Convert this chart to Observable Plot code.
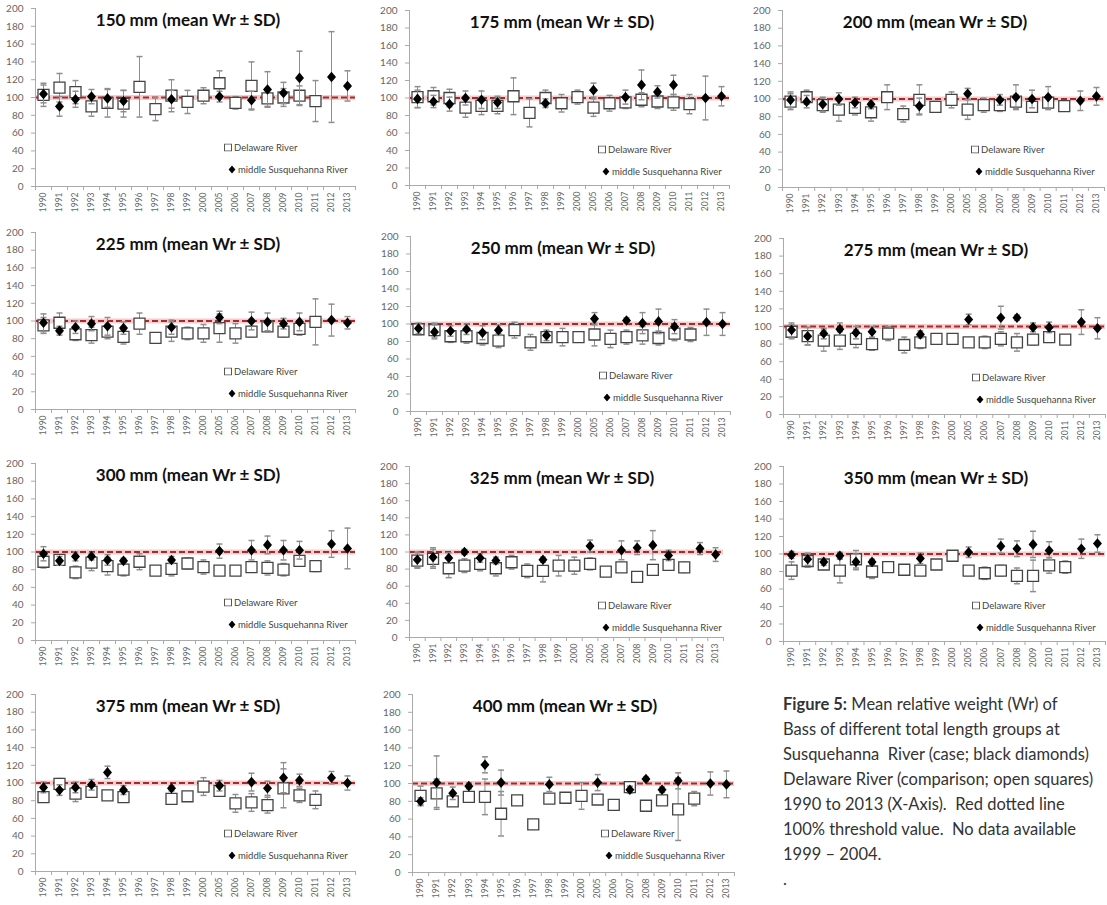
<!DOCTYPE html>
<html><head><meta charset="utf-8">
<script src="https://cdn.jsdelivr.net/npm/d3@7"></script>
<script src="https://cdn.jsdelivr.net/npm/@observablehq/plot@0.6"></script>
<style>
html,body{margin:0;padding:0;background:#fff;}
body{width:1107px;height:905px;overflow:hidden;position:relative;font-family:Lato,"Open Sans",sans-serif;}
.plot{position:absolute;}
.ptitle{position:absolute;font-weight:bold;font-size:17px;color:#111;transform:translate(-50%,-50%);white-space:nowrap;}
.leg{position:absolute;font-size:9.5px;color:#444;white-space:nowrap;display:flex;align-items:center;transform:translateY(-50%);}
.leg svg{margin-right:2px;}
#caption{position:absolute;left:783px;top:692px;font-size:16.5px;line-height:25px;color:#333;white-space:nowrap;}
</style></head><body>
<script>
const years = ["1990","1991","1992","1993","1994","1995","1996","1997","1998","1999","2000","2005","2006","2007","2008","2009","2010","2011","2012","2013"];
const sizes = ["150 mm","175 mm","200 mm","225 mm","250 mm","275 mm","300 mm","325 mm","350 mm","375 mm","400 mm"];
const seriesNames = ["Delaware River","middle Susquehanna River"];

// Delaware River (open squares): mean Wr and SD
const del150 = [103,111,106,90,94,93,112,87,102,95,102,116,94,113,99,100,102,96,null,null];
const del150sd = [13,16,13,11,16,15,34,13,18,13,9,14,7,27,9,10,11,23,null,null];
const del175 = [101,102,100,89,91,91,102,83,100,94,101,89,94,95,98,96,95,93,null,null];
const del175sd = [12,10,10,11,10,9,21,16,9,10,8,10,9,7,8,8,9,11,null,null];
const del200 = [97,102,93,88,90,85,102,83,99,91,99,88,93,93,97,91,96,92,null,null];
const del200sd = [9,8,8,13,8,10,14,9,17,6,9,11,8,7,8,5,8,4,null,null];
const del225 = [95,98,85,84,88,82,97,81,88,86,86,92,86,88,94,88,91,99,null,null];
const del225sd = [9,11,7,9,8,8,12,5,11,7,10,16,11,6,6,6,7,26,null,null];
const del250 = [94,93,86,86,84,81,93,79,85,85,85,88,83,85,87,84,89,88,null,null];
const del250sd = [6,8,7,8,8,8,9,9,6,10,5,13,10,8,10,8,8,8,null,null];
const del275 = [94,89,84,84,86,80,92,79,82,86,86,82,82,86,82,85,88,85,null,null];
const del275sd = [8,10,12,10,10,7,8,9,7,4,4,3,7,8,10,6,6,5,null,null];
const del300 = [89,91,77,88,84,80,89,79,81,87,83,79,79,83,82,80,90,84,null,null];
const del300sd = [7,5,7,9,10,7,9,4,8,6,8,4,5,5,8,7,5,6,null,null];
const del325 = [90,92,81,84,86,81,88,78,78,84,84,86,77,82,71,79,85,82,null,null];
const del325sd = [9,11,11,8,8,9,8,8,13,12,10,7,3,4,4,6,6,6,null,null];
const del350 = [81,92,88,81,94,80,85,82,81,88,98,81,78,81,75,75,87,85,null,null];
const del350sd = [10,7,4,14,10,8,4,0,4,5,3,2,7,6,9,18,9,7,null,null];
const del375 = [84,99,88,90,86,84,null,null,82,85,96,91,77,78,75,94,86,81,null,null];
const del375sd = [3,6,9,6,5,5,null,null,3,3,10,6,10,10,9,22,8,10,null,null];
const del400 = [86,89,80,85,85,66,81,54,83,84,86,82,76,96,75,81,71,83,null,null];
const del400sd = [11,16,5,3,20,25,0,0,5,3,15,4,0,4,2,3,35,8,null,null];

// middle Susquehanna River (black diamonds): mean Wr and SD
const sus150 = [104,90,98,101,99,96,null,null,98,null,null,101,null,97,109,105,122,null,123,113];
const sus150sd = [10,11,9,8,10,12,null,null,10,null,null,6,null,10,20,12,30,null,51,17];
const sus175 = [99,96,93,100,98,95,null,null,94,null,null,109,null,101,115,107,115,null,100,102];
const sus175sd = [10,7,8,8,10,7,null,null,5,null,null,8,null,8,17,7,11,null,25,11];
const sus200 = [99,97,94,100,96,94,null,null,92,null,null,106,null,99,102,100,102,null,98,103];
const sus200sd = [9,7,8,7,6,5,null,null,9,null,null,6,null,6,14,10,12,null,11,10];
const sus225 = [98,89,93,97,94,92,null,null,93,null,null,104,null,100,99,97,99,null,101,98];
const sus225sd = [10,5,7,8,10,7,null,null,8,null,null,7,null,10,10,6,10,null,18,7];
const sus250 = [95,91,92,94,90,93,null,null,87,null,null,106,null,104,101,103,97,null,102,100];
const sus250sd = [6,8,6,6,8,6,null,null,6,null,null,7,null,3,12,14,8,null,15,13];
const sus275 = [96,89,92,97,93,94,null,null,91,null,null,108,null,110,110,99,99,null,105,98];
const sus275sd = [8,10,6,7,7,6,null,null,4,null,null,6,null,13,3,5,6,null,14,12];
const sus300 = [98,90,95,95,91,90,null,null,91,null,null,101,null,102,108,102,102,null,109,104];
const sus300sd = [8,5,5,4,6,3,null,null,4,null,null,8,null,11,10,11,10,null,15,23];
const sus325 = [91,94,93,100,93,90,null,null,91,null,null,107,null,102,105,108,96,null,104,97];
const sus325sd = [9,11,6,3,5,4,null,null,3,null,null,7,null,11,8,17,6,null,7,8];
const sus350 = [99,94,91,98,91,91,null,null,95,null,null,102,null,109,106,111,104,null,106,112];
const sus350sd = [4,7,4,4,9,3,null,null,6,null,null,6,null,8,9,15,10,null,11,10];
const sus375 = [95,92,95,98,112,92,null,null,94,null,null,97,null,101,94,106,103,null,106,100];
const sus375sd = [6,6,6,6,7,5,null,null,3,null,null,6,null,10,8,17,7,null,7,8];
const sus400 = [80,101,89,97,121,101,null,null,99,null,null,101,null,93,105,93,103,null,100,99];
const sus400sd = [4,30,7,3,9,14,null,null,8,null,null,9,null,4,2,3,9,null,13,15];

const yTicks = [0,20,40,60,80,100,120,140,160,180,200];
const threshold = 100;

const captionLines = [
  "<b>Figure 5:</b> Mean relative weight (Wr) of",
  "Bass of different total length groups at",
  "Susquehanna&nbsp; River (case; black diamonds)",
  "Delaware River (comparison; open squares)",
  "1990 to 2013 (X-Axis).&nbsp; Red dotted line",
  "100% threshold value.&nbsp; No data available",
  "1999 – 2004.",
  "."
];

const delData = [del150,del175,del200,del225,del250,del275,del300,del325,del350,del375,del400];
const delSDs = [del150sd,del175sd,del200sd,del225sd,del250sd,del275sd,del300sd,del325sd,del350sd,del375sd,del400sd];
const susData = [sus150,sus175,sus200,sus225,sus250,sus275,sus300,sus325,sus350,sus375,sus400];
const susSDs = [sus150sd,sus175sd,sus200sd,sus225sd,sus250sd,sus275sd,sus300sd,sus325sd,sus350sd,sus375sd,sus400sd];

// page layout of each panel: left axis x, y of 200, y of 0, category step (px)
const layout = [
  {ax:35, t:8, b:186, step:16}, {ax:409, t:10, b:185, step:16}, {ax:782, t:10, b:187, step:16.1},
  {ax:35, t:232, b:409, step:16}, {ax:410, t:236, b:411, step:16}, {ax:783, t:238, b:414, step:16.1},
  {ax:35, t:463, b:640, step:16}, {ax:409, t:466, b:637, step:15.7}, {ax:783, t:466, b:641, step:16.1},
  {ax:35, t:694, b:871, step:16}, {ax:412, t:694, b:872, step:16.1}
];

const capSym = {draw(ctx, size){const r=Math.sqrt(size/Math.PI); ctx.moveTo(-r,0); ctx.lineTo(r,0);}};
const diamondSym = {draw(ctx, size){const r=Math.sqrt(size/Math.PI); ctx.moveTo(0,-r); ctx.lineTo(r*0.85,0); ctx.lineTo(0,r); ctx.lineTo(-r*0.85,0); ctx.closePath();}};

const errColor = "#8e8e8e";

function rows(m, s){ return years.map((yr,i)=>({i, year:yr, mean:m[i], sd:s[i]})).filter(d=>d.mean!=null); }
function bars(arr){ return arr.filter(d=>d.sd>0).map(d=>({i:d.i, lo:d.mean-d.sd, hi:d.mean+d.sd})); }

sizes.forEach((size, k) => {
  const L = layout[k];
  const mL=35, mT=6, mR=6, mB=40;
  const w = mL + 20*L.step + mR;
  const h = mT + (L.b - L.t) + mB;
  const D = rows(delData[k], delSDs[k]);
  const S = rows(susData[k], susSDs[k]);
  const DB = bars(D), SB = bars(S);
  const chart = Plot.plot({
    width: w, height: h,
    marginLeft: mL, marginTop: mT, marginRight: mR, marginBottom: mB,
    x: {type:"linear", domain:[-0.5, years.length-0.5], label:null},
    y: {domain:[0,200], label:null},
    style: {fontFamily:"Lato, 'Open Sans', sans-serif", background:"transparent", overflow:"visible"},
    marks: [
      Plot.ruleY([threshold], {stroke:"#f4cccc", strokeWidth:5}),
      Plot.ruleY([threshold], {stroke:"#a62a2d", strokeWidth:1.8, strokeDasharray:"6,3"}),
      Plot.axisY({ticks:yTicks, tickSize:4, tickPadding:8, fontSize:10, fill:"#666", stroke:"#aaa", label:null}),
      Plot.axisX({ticks:d3.range(years.length), tickFormat:i=>years[i], tickSize:0, tickPadding:6, tickRotate:-90, fontSize:8.5, fill:"#666", label:null}),
      Plot.axisX({ticks:d3.range(years.length+1).map(v=>v-0.5), tickFormat:()=>"", tickSize:4, stroke:"#aaa", label:null}),
      Plot.ruleY([0], {stroke:"#aaa"}),
      Plot.ruleX([-0.5], {stroke:"#aaa"}),
      Plot.ruleX(DB, {x:"i", y1:"lo", y2:"hi", stroke:errColor, strokeWidth:1}),
      Plot.dot(DB, {x:"i", y:"lo", symbol:capSym, r:3, stroke:errColor, fill:"none"}),
      Plot.dot(DB, {x:"i", y:"hi", symbol:capSym, r:3, stroke:errColor, fill:"none"}),
      Plot.dot(D, {x:"i", y:"mean", symbol:"square", r:6.2, fill:"white", stroke:"#444", strokeWidth:1.3}),
      Plot.ruleX(SB, {x:"i", y1:"lo", y2:"hi", stroke:errColor, strokeWidth:1}),
      Plot.dot(SB, {x:"i", y:"lo", symbol:capSym, r:3, stroke:errColor, fill:"none"}),
      Plot.dot(SB, {x:"i", y:"hi", symbol:capSym, r:3, stroke:errColor, fill:"none"}),
      Plot.dot(S, {x:"i", y:"mean", symbol:diamondSym, r:5.3, fill:"#000", stroke:"none"})
    ]
  });
  chart.classList.add("plot");
  chart.style.left = (L.ax - mL) + "px";
  chart.style.top = (L.t - mT) + "px";
  document.body.appendChild(chart);

  const title = document.createElement("div");
  title.className = "ptitle";
  title.textContent = size + " (mean Wr \u00b1 SD)";
  title.style.left = (L.ax + 153) + "px";
  title.style.top = (L.t + 11) + "px";
  document.body.appendChild(title);

  const leg1 = document.createElement("div");
  leg1.className = "leg";
  leg1.style.left = (L.ax + 189) + "px";
  leg1.style.top = (L.t + 139) + "px";
  leg1.innerHTML = '<svg width="8" height="8"><rect x="0.5" y="0.5" width="7" height="7" fill="#fff" stroke="#555"/></svg>' + seriesNames[0];
  document.body.appendChild(leg1);

  const leg2 = document.createElement("div");
  leg2.className = "leg";
  leg2.style.left = (L.ax + 193) + "px";
  leg2.style.top = (L.t + 161) + "px";
  leg2.innerHTML = '<svg width="8" height="8"><path d="M4,0L7.4,4L4,8L0.6,4Z" fill="#000"/></svg>' + seriesNames[1];
  document.body.appendChild(leg2);
});

const cap = document.createElement("div");
cap.id = "caption";
cap.innerHTML = captionLines.join("<br>");
document.body.appendChild(cap);
</script>
</body></html>
